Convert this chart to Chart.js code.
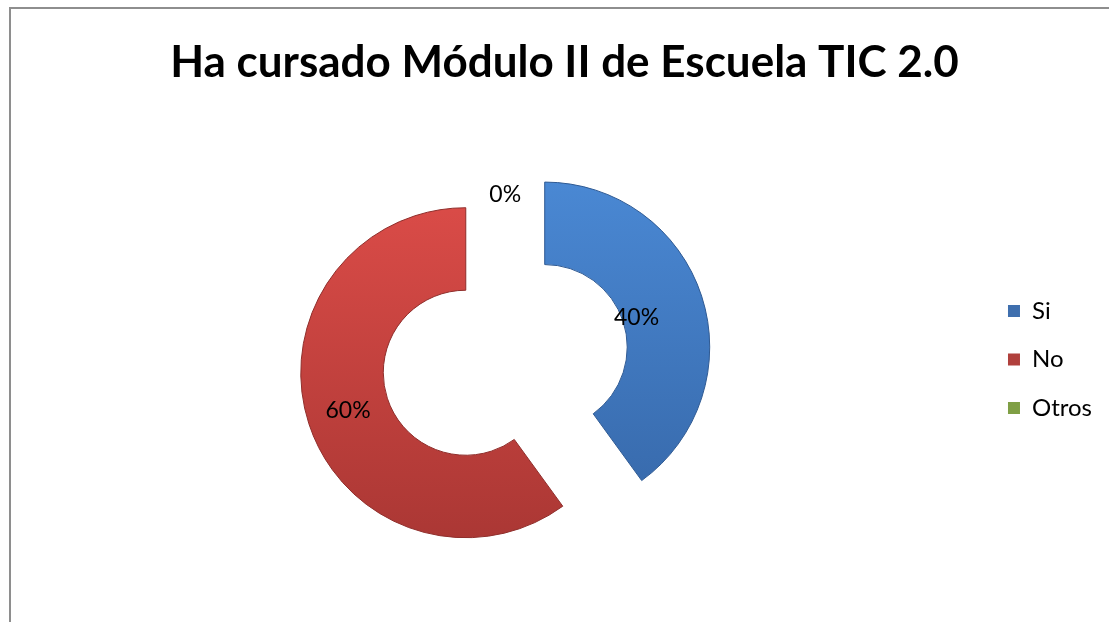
<!DOCTYPE html>
<html>
<head>
<meta charset="utf-8">
<title>Ha cursado Módulo II de Escuela TIC 2.0</title>
<script src="https://cdn.jsdelivr.net/npm/chart.js@4.4.1/dist/chart.umd.min.js"></script>
<style>
  html, body { margin: 0; padding: 0; background: #fff; overflow: hidden; }
  #marco { position: absolute; left: 9px; top: 7px; width: 1200px; height: 700px; border: 2px solid #8e8e8e; }
  #grafico { position: absolute; left: 0; top: 0; }
</style>
</head>
<body>
<div id="marco"></div>
<canvas id="grafico" width="1109" height="622"></canvas>
<script>
const categorias = ['Si', 'No', 'Otros'];
const porcentajes = [40, 60, 0];

const coloresArriba = ['#4b8ad6', '#e04e4a', '#9bbb59'];
const coloresAbajo = ['#3464a4', '#a83633', '#6f8a3c'];
const coloresBorde = ['#2f5a93', '#8f2e2b', '#5f7733'];
const coloresLeyenda = ['#3f6fae', '#b0403c', '#7f9f45'];

// separa cada porcion del centro, como en Excel
const separarPlugin = {
    id: 'separar',
    afterDatasetsUpdate(chart, args, opts) {
        chart.getDatasetMeta(0).data.forEach(arco => {
            const mitad = (arco.startAngle + arco.endAngle) / 2;
            arco.x += Math.cos(mitad) * opts.distancia;
            arco.y += Math.sin(mitad) * opts.distancia;
        });
    }
};

const etiquetasPlugin = {
    id: 'etiquetas',
    afterDatasetsDraw(chart, args, opts) {
        const ctx = chart.ctx;
        const meta = chart.getDatasetMeta(0);
        ctx.save();
        ctx.font = '23px Lato';
        ctx.fillStyle = '#000';
        ctx.textAlign = 'center';
        ctx.textBaseline = 'middle';
        meta.data.forEach((arco, i) => {
            const mitad = (arco.startAngle + arco.endAngle) / 2;
            const r = (arco.innerRadius + arco.outerRadius) / 2 * opts.factores[i];
            ctx.fillText(porcentajes[i] + '%', arco.x + Math.cos(mitad) * r, arco.y + Math.sin(mitad) * r);
        });
        ctx.restore();
    }
};

function degradado(context) {
    const chart = context.chart;
    const area = chart.chartArea;
    const i = context.dataIndex;
    if (!area) return coloresArriba[i];
    const cy = (area.top + area.bottom) / 2;
    const g = chart.ctx.createLinearGradient(0, cy - 200, 0, cy + 200);
    g.addColorStop(0, coloresArriba[i]);
    g.addColorStop(1, coloresAbajo[i]);
    return g;
}

const ctx = document.getElementById('grafico').getContext('2d');
new Chart(ctx, {
    type: 'doughnut',
    data: {
        labels: categorias,
        datasets: [{
            data: porcentajes,
            backgroundColor: degradado,
            borderColor: coloresBorde,
            borderWidth: 1
        }]
    },
    plugins: [separarPlugin, etiquetasPlugin],
    options: {
        responsive: false,
        animation: false,
        events: [],
        radius: 165,
        cutout: '50%',
        layout: {
            padding: { left: 27, right: 7, top: 0, bottom: 0 }
        },
        plugins: {
            separar: { distancia: 41.5 },
            etiquetas: { factores: [0.78, 1, 1] },
            title: {
                display: true,
                text: 'Ha cursado Módulo II de Escuela TIC 2.0',
                color: '#000',
                font: { family: 'Lato', size: 44, weight: 'bold', lineHeight: 1.2 },
                padding: { top: 36, bottom: 9 }
            },
            legend: {
                position: 'right',
                title: {
                    display: true,
                    text: ' ',
                    font: { family: 'Lato', size: 10, lineHeight: 1.2 },
                    padding: { top: 85, bottom: 0 }
                },
                labels: {
                    boxWidth: 12,
                    boxHeight: 12,
                    padding: 24.5,
                    color: '#000',
                    font: { family: 'Lato', size: 24 },
                    generateLabels: (chart) => {
                        const items = Chart.overrides.doughnut.plugins.legend.labels.generateLabels(chart);
                        items.forEach((item, i) => {
                            item.fillStyle = coloresLeyenda[i];
                            item.lineWidth = 0;
                        });
                        return items;
                    }
                }
            },
            tooltip: { enabled: false }
        }
    }
});
</script>
</body>
</html>
